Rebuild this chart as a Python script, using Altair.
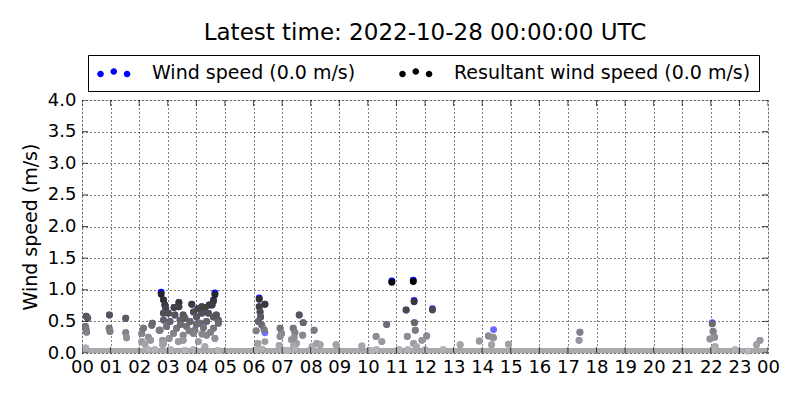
import altair as alt
import pandas as pd

# ---- data (hour of day, m/s) ----
hours = [
    0.15, 0.20, 0.12, 0.14, 0.16, 0.13,
    0.96, 0.95, 0.98,
    1.53, 1.53, 1.56,
    2.09, 2.15, 2.32, 2.40, 2.09, 2.20, 2.44, 2.46, 2.32, 2.70, 2.82, 2.82, 2.55, 2.73,
    2.77, 2.85, 2.90, 2.93, 2.85, 3.02, 2.85, 2.96, 2.85,
    3.39, 3.39, 3.22, 3.25, 3.54, 3.08, 3.43, 3.31, 3.20, 3.05, 3.37, 3.54, 3.66, 3.54, 3.10, 3.60,
    3.84, 3.90, 3.78, 4.01, 3.95, 3.90, 4.07, 3.90,
    4.19, 4.30, 4.45, 4.65, 4.60, 4.55, 4.19, 4.42, 4.60, 4.77, 4.77, 4.13, 4.36, 4.60, 4.36, 4.65,
    4.30, 4.75, 4.20, 3.60, 4.00, 4.25, 3.45, 3.75, 4.50, 4.70, 4.05,
    6.20, 6.40, 6.20, 6.23, 6.25, 6.29, 6.17, 6.09, 6.37, 6.15, 6.40, 6.10, 6.30,
    6.93, 6.98, 6.93, 6.90, 7.39, 7.45, 7.33, 7.50, 7.40, 7.60, 7.74, 7.72, 7.00, 7.45, 7.20, 7.42,
    8.12, 8.21, 8.05, 8.33, 8.00, 8.89, 9.79,
    10.29, 10.49, 10.66, 10.30, 10.84, 10.10,
    11.34, 11.59, 11.62, 11.63, 11.66, 11.38, 11.60, 11.89, 11.70, 11.10, 11.40,
    12.26, 12.06, 12.64, 12.00,
    13.23, 13.90,
    14.22, 14.37, 14.33, 14.92, 14.40,
    17.42, 17.39,
    22.05, 22.08, 22.13, 21.97, 22.15, 22.10, 22.85,
    23.60, 23.72, 23.30,
]
resultant = [
    0.58, 0.55, 0.42, 0.38, 0.33, 0.08,
    0.60, 0.39, 0.34,
    0.55, 0.32, 0.24,
    0.31, 0.39, 0.25, 0.20, 0.18, 0.14, 0.44, 0.47, 0.05, 0.36, 0.20, 0.13, 0.05, 0.36,
    0.93, 0.84, 0.76, 0.70, 0.63, 0.63, 0.52, 0.42, 0.15,
    0.80, 0.73, 0.72, 0.60, 0.60, 0.50, 0.52, 0.39, 0.31, 0.23, 0.18, 0.28, 0.42, 0.20, 0.05, 0.04,
    0.77, 0.65, 0.50, 0.57, 0.36, 0.31, 0.18, 0.05,
    0.73, 0.72, 0.76, 0.92, 0.82, 0.76, 0.63, 0.63, 0.57, 0.52, 0.47, 0.47, 0.50, 0.39, 0.28, 0.23,
    0.10, 0.04, 0.30, 0.55, 0.45, 0.40, 0.45, 0.35, 0.33, 0.60, 0.70,
    0.85, 0.77, 0.73, 0.65, 0.57, 0.44, 0.50, 0.35, 0.37, 0.15, 0.18, 0.05, 0.06,
    0.39, 0.31, 0.26, 0.12, 0.39, 0.32, 0.21, 0.15, 0.11, 0.60, 0.48, 0.28, 0.05, 0.06, 0.04, 0.24,
    0.36, 0.15, 0.10, 0.13, 0.05, 0.13, 0.11,
    0.26, 0.18, 0.45, 0.05, 1.12, 0.04,
    0.68, 1.13, 0.81, 0.48, 0.36, 0.26, 0.15, 0.20, 0.10, 0.05, 0.05,
    0.68, 0.27, 0.05, 0.05,
    0.13, 0.19,
    0.27, 0.25, 0.13, 0.14, 0.24,
    0.33, 0.20,
    0.46, 0.34, 0.25, 0.22, 0.10, 0.05, 0.05,
    0.13, 0.20, 0.03,
]
wind = [
    0.58, 0.55, 0.42, 0.38, 0.33, 0.08,
    0.60, 0.39, 0.34,
    0.55, 0.32, 0.24,
    0.31, 0.39, 0.25, 0.20, 0.18, 0.14, 0.44, 0.47, 0.05, 0.36, 0.20, 0.13, 0.05, 0.36,
    0.96, 0.84, 0.76, 0.70, 0.63, 0.63, 0.52, 0.42, 0.15,
    0.80, 0.73, 0.72, 0.60, 0.60, 0.50, 0.52, 0.39, 0.31, 0.23, 0.18, 0.28, 0.42, 0.20, 0.05, 0.04,
    0.77, 0.65, 0.50, 0.57, 0.36, 0.31, 0.18, 0.05,
    0.73, 0.72, 0.76, 0.95, 0.84, 0.76, 0.63, 0.63, 0.57, 0.52, 0.47, 0.47, 0.50, 0.39, 0.28, 0.23,
    0.10, 0.04, 0.30, 0.55, 0.45, 0.40, 0.45, 0.35, 0.33, 0.60, 0.70,
    0.87, 0.77, 0.73, 0.65, 0.57, 0.44, 0.50, 0.35, 0.37, 0.15, 0.32, 0.05, 0.06,
    0.39, 0.31, 0.26, 0.12, 0.39, 0.32, 0.21, 0.15, 0.11, 0.60, 0.48, 0.28, 0.05, 0.06, 0.04, 0.24,
    0.36, 0.15, 0.10, 0.13, 0.05, 0.13, 0.11,
    0.26, 0.18, 0.45, 0.05, 1.14, 0.04,
    0.68, 1.15, 0.83, 0.48, 0.36, 0.26, 0.15, 0.20, 0.10, 0.05, 0.05,
    0.70, 0.27, 0.05, 0.05,
    0.13, 0.19,
    0.27, 0.25, 0.13, 0.14, 0.37,
    0.33, 0.20,
    0.48, 0.34, 0.25, 0.22, 0.10, 0.05, 0.05,
    0.13, 0.20, 0.03,
]

series_labels = ["Wind speed (0.0 m/s)", "Resultant wind speed (0.0 m/s)"]
series_colors = ["#0000ff", "#000000"]
x_ticks = list(range(25))
y_ticks = [0.0, 0.5, 1.0, 1.5, 2.0, 2.5, 3.0, 3.5, 4.0]
title_text = "Latest time: 2022-10-28 00:00:00 UTC"

df = pd.DataFrame({"hour": hours, "wind": wind, "resultant": resultant})
df["series"] = series_labels[0]

xt = pd.DataFrame([(h, e) for h in x_ticks for e in (y_ticks[0], y_ticks[-1])], columns=["h", "v"])
yt = pd.DataFrame([(v, e) for v in y_ticks for e in (x_ticks[0], x_ticks[-1])], columns=["v", "h"])

FONT = "DejaVu Sans"
xscale = alt.Scale(domain=[x_ticks[0], x_ticks[-1]], nice=False, zero=False)
yscale = alt.Scale(domain=[y_ticks[0], y_ticks[-1]], nice=False)

xaxis = alt.Axis(
    values=x_ticks, title=None, grid=True, gridDash=[1, 3], gridColor="black",
    gridOpacity=1, ticks=False, domain=False, labelFontSize=18, labelFont=FONT,
    labelColor="black", labelPadding=5, labelFlush=False,
    labelExpr="(datum.value % 24) < 10 ? '0' + (datum.value % 24) : '' + (datum.value % 24)",
)
yaxis = alt.Axis(
    values=y_ticks, title="Wind speed (m/s)", format=".1f", grid=True, gridDash=[1, 3],
    gridColor="black", gridOpacity=1, ticks=False, domain=False, labelFontSize=18,
    labelFont=FONT, labelColor="black", labelPadding=6, titleFontSize=19, titleFont=FONT,
    titleFontWeight="normal", titleColor="black", titlePadding=7, labelFlush=False,
)

# three-dot legend glyph
def dot(cx, cy, r=0.4):
    return f"M {cx - r} {cy} A {r} {r} 0 1 0 {cx + r} {cy} A {r} {r} 0 1 0 {cx - r} {cy} Z "

three_dots = (dot(-0.6, 0.15) + dot(1.0, -0.15) + dot(2.6, 0.15)).strip()

band = alt.Chart(df).mark_rule(color="#aaaaaa", strokeWidth=10, clip=True).encode(
    x=alt.datum(x_ticks[0], scale=xscale, axis=xaxis),
    x2=alt.datum(x_ticks[-1]),
    y=alt.datum(0, scale=yscale, axis=yaxis),
)

wind_pts = alt.Chart(df).mark_circle(size=48).encode(
    x=alt.X("hour:Q", scale=xscale, axis=xaxis),
    y=alt.Y("wind:Q", scale=yscale, axis=yaxis),
    color=alt.Color(
        "series:N",
        scale=alt.Scale(domain=series_labels, range=series_colors),
        legend=alt.Legend(
            title=None, orient="none", legendX=6, legendY=-45, direction="horizontal",
            strokeColor="black", fillColor="white", padding=8, symbolType=three_dots,
            symbolSize=275, symbolStrokeWidth=0, labelFontSize=19, labelFont=FONT,
            labelColor="black", labelOffset=37, columnPadding=42, symbolOpacity=1,
            labelLimit=500,
        ),
    ),
    opacity=alt.Opacity("wind:Q", scale=alt.Scale(domain=[0, 1], range=[0.35, 1]), legend=None),
)

res_pts = alt.Chart(df).mark_circle(size=48, opacity=1).encode(
    x=alt.X("hour:Q", scale=xscale, axis=xaxis),
    y=alt.Y("resultant:Q", scale=yscale, axis=yaxis),
    fill=alt.Fill("resultant:Q", scale=alt.Scale(domain=[0, 1.15], range=["#bbbbbb", "#000000"]), legend=None),
)

xticks_layer = alt.Chart(xt).mark_tick(orient="vertical", size=12, thickness=1, color="black", clip=True).encode(
    x=alt.X("h:Q", scale=xscale, axis=xaxis),
    y=alt.Y("v:Q", scale=yscale, axis=yaxis),
)
yticks_layer = alt.Chart(yt).mark_tick(orient="horizontal", size=12, thickness=1, color="black", clip=True).encode(
    x=alt.X("h:Q", scale=xscale, axis=xaxis),
    y=alt.Y("v:Q", scale=yscale, axis=yaxis),
)

chart = alt.layer(band, wind_pts, res_pts, xticks_layer, yticks_layer).resolve_scale(
    color="independent", fill="independent"
).properties(
    width=686, height=253,
    title=alt.TitleParams(title_text, fontSize=23, font=FONT, fontWeight="normal",
                          color="black", anchor="middle", offset=10),
    autosize=alt.AutoSizeParams(type="none"),
    padding={"left": 74, "top": 92, "right": 24, "bottom": 39},
).configure_view(stroke="black", strokeWidth=1).configure(background="white")

chart.save("out.html", embed_options={"renderer": "svg", "actions": False})
